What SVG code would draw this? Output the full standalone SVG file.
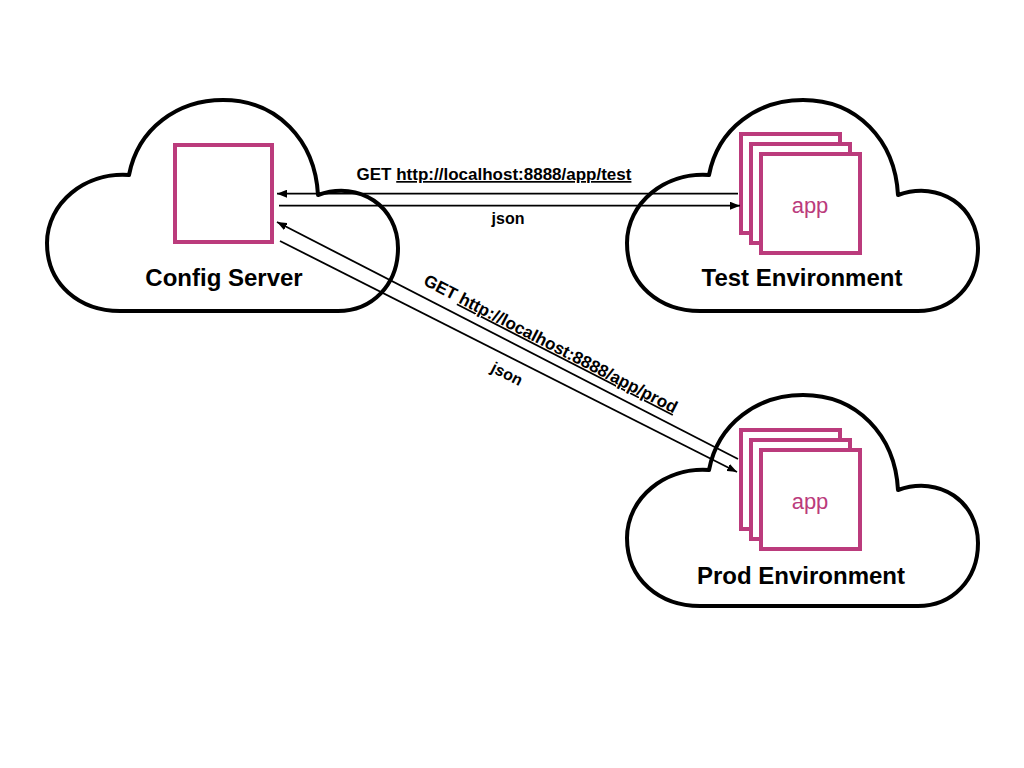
<svg xmlns="http://www.w3.org/2000/svg" xmlns:xlink="http://www.w3.org/1999/xlink" width="1024" height="768" viewBox="0 0 1024 768">
<style>
.cloud{fill:#fff;stroke:#000;stroke-width:4;stroke-linejoin:round}
.box{fill:#fff;stroke:#bb3b7c;stroke-width:4}
.title{font-family:"Liberation Sans",Arial,sans-serif;font-weight:bold;font-size:24px;fill:#000;text-anchor:middle}
.app{font-family:"Liberation Sans",Arial,sans-serif;font-size:22px;fill:#bb3b7c;text-anchor:middle}
.lbl{font-family:"Liberation Sans",Arial,sans-serif;font-weight:bold;font-size:16px;fill:#000;text-anchor:middle}
.url{font-size:17px}
.conn{stroke:#000;stroke-width:1.8;fill:none;marker-end:url(#arr)}
</style>
<defs>
<marker id="arr" markerUnits="userSpaceOnUse" markerWidth="11" markerHeight="8" refX="10" refY="4" orient="auto">
<path d="M0,0 L10,4 L0,8 z" fill="#000"/>
</marker>
<path id="cloudShape" d="M120 311 C80 311 47 285 47 243 C47 203 85 172 129 175 C138 128 178 100 223 100 C277 100 315 140 318 195 C360 180 398 207 398 248 C398 285 372 311 338 311 Z"/>
</defs>
<rect width="1024" height="768" fill="#fff"/>
<g id="config-server">
<use xlink:href="#cloudShape" href="#cloudShape" class="cloud"/>
<rect class="box" x="175" y="145" width="97" height="97"/>
<text class="title" x="224" y="286">Config Server</text>
</g>
<g id="test-environment">
<use xlink:href="#cloudShape" href="#cloudShape" class="cloud" transform="translate(580,0)"/>
<rect class="box" x="741" y="134" width="99" height="99"/>
<rect class="box" x="751" y="144" width="99" height="99"/>
<rect class="box" x="761" y="154" width="99" height="99"/>
<text class="app" x="810" y="213">app</text>
<text class="title" x="802" y="286">Test Environment</text>
</g>
<g id="prod-environment">
<use xlink:href="#cloudShape" href="#cloudShape" class="cloud" transform="translate(580,295)"/>
<rect class="box" x="741" y="430" width="99" height="99"/>
<rect class="box" x="751" y="440" width="99" height="99"/>
<rect class="box" x="761" y="450" width="99" height="99"/>
<text class="app" x="810" y="509">app</text>
<text class="title" x="801" y="584">Prod Environment</text>
</g>
<g id="connectors">
<line class="conn" x1="738" y1="193.7" x2="277" y2="193.7"/>
<line class="conn" x1="279" y1="205.7" x2="740" y2="205.7"/>
<line class="conn" x1="738" y1="459" x2="277" y2="222"/>
<line class="conn" x1="280" y1="241" x2="737" y2="472"/>
<text class="lbl url" x="494" y="180">GET <tspan text-decoration="underline">http://localhost:8888/app/test</tspan></text>
<text class="lbl" x="508" y="224">json</text>
<g transform="translate(543,358.7) rotate(27.2)">
<text class="lbl url" x="0" y="-11">GET <tspan text-decoration="underline">http://localhost:8888/app/prod</tspan></text>
</g>
<g transform="translate(514,360) rotate(27)">
<text class="lbl" x="0" y="21">json</text>
</g>
</g>
</svg>
